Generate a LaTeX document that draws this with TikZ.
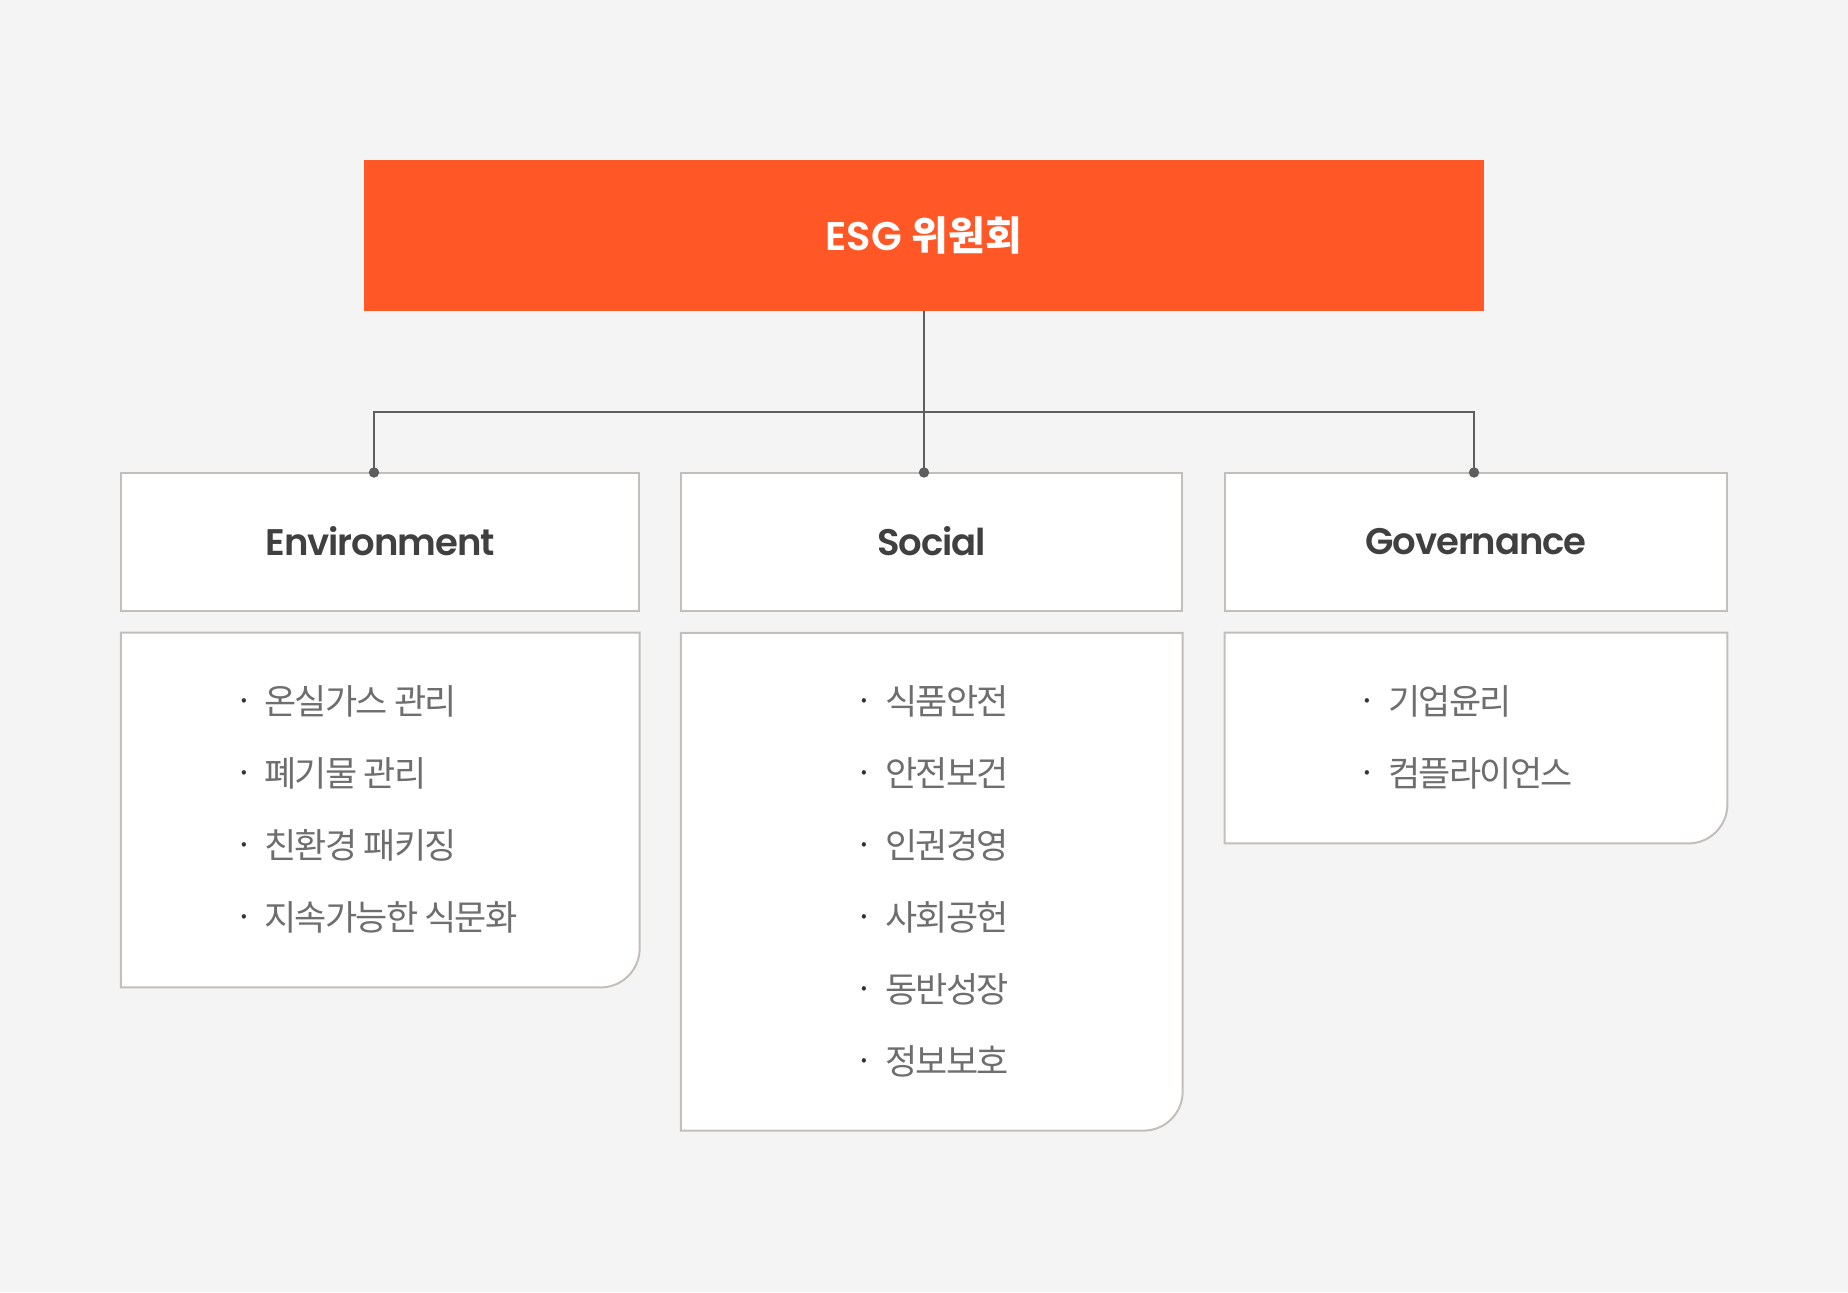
\documentclass[tikz,border=0pt]{standalone}
\usepackage{fontspec}
\newfontfamily\kr{Noto Sans CJK KR}[LetterSpace=-5]
\newfontfamily\krb{Noto Sans CJK KR}
\newfontfamily\hd{Poppins SemiBold}[LetterSpace=-3]
\newfontfamily\hdb{Poppins SemiBold}
\definecolor{bg}{HTML}{F4F4F4}
\definecolor{esgred}{HTML}{FF5725}
\definecolor{boxline}{HTML}{C2BFBA}
\definecolor{conn}{HTML}{5E5E5E}
\definecolor{hdtext}{HTML}{404040}
\definecolor{itemtext}{HTML}{6E6E6E}
\definecolor{bul}{HTML}{333333}
\tikzset{
  esgbox/.style={fill=esgred, draw=none, minimum width=560pt, minimum height=75.5pt, inner sep=0pt,
    text=white, font=\fontsize{20}{24}\selectfont},
  hdbox/.style={fill=white, draw=boxline, line width=1pt, minimum height=69pt, inner sep=0pt,
    text=hdtext, font=\hd\fontsize{18.5}{22}\selectfont},
  bodyframe/.style={draw=none, minimum height=0pt, inner sep=0pt},
  bodyline/.style={fill=white, draw=boxline, line width=1pt},
  conline/.style={draw=conn, line width=1pt},
  condot/.style={fill=conn},
  itemnode/.style={anchor=west, inner sep=0pt, text=itemtext, font=\kr\fontsize{17.5}{20}\selectfont},
  bulnode/.style={anchor=center, inner sep=0pt, text=bul, font=\krb\fontsize{16}{18}\selectfont},
}
\begin{document}
\begin{tikzpicture}[x=0.5pt,y=-0.5pt]
\fill[bg] (0,0) rectangle (1848,1292);
\useasboundingbox (0,0) rectangle (1848,1292);

% top box
\node[esgbox] (esg) at (924,235.5) {{\hdb ESG}\hspace{0.25em}{\krb\bfseries 위원회}};

% header boxes
\node[hdbox, minimum width=259pt] (env) at (380.25,541.6) {Environment};
\node[hdbox, minimum width=250.5pt] (soc) at (931.75,541.6) {Social};
\node[hdbox, minimum width=251pt] (gov) at (1476,541.6) {Governance};

% body frames
\node[bodyframe, minimum width=259pt, minimum height=177pt] (envbody) at (380.25,810) {};
\node[bodyframe, minimum width=250.5pt, minimum height=248.5pt] (socbody) at (931.75,881.7) {};
\node[bodyframe, minimum width=251pt, minimum height=105pt] (govbody) at (1476,738) {};
\foreach \b in {envbody,socbody,govbody}{
  \draw[bodyline] (\b.north west) -- (\b.north east) -- (\b.east)
    [rounded corners=19.5pt] -- (\b.south east) -- (\b.south)
    [sharp corners] -- (\b.south west) -- cycle;
}

% connectors
\coordinate (jE) at (374,472.5);
\coordinate (jS) at (924,472.5);
\coordinate (jG) at (1474,472.5);
\coordinate (bus) at (924,412);
\draw[conline] (esg.south) -- (jS);
\draw[conline] (jE) |- (bus) -| (jG);
\foreach \j in {jE,jS,jG}{ \fill[condot] (\j) circle (2.6pt); }

% environment items
\foreach \t [count=\i from 0] in {온실가스 관리,폐기물 관리,친환경 패키징,지속가능한 식문화}{
  \node[bulnode] (eb\i) at (244,706+72*\i) {·};
  \node[itemnode] (ei\i) at (264,701+72*\i) {\t};
}
% social items
\foreach \t [count=\i from 0] in {식품안전,안전보건,인권경영,사회공헌,동반성장,정보보호}{
  \node[bulnode] (sb\i) at (864,706+72*\i) {·};
  \node[itemnode] (si\i) at (885,701+72*\i) {\t};
}
% governance items
\foreach \t [count=\i from 0] in {기업윤리,컴플라이언스}{
  \node[bulnode] (gb\i) at (1367,706+72*\i) {·};
  \node[itemnode] (gi\i) at (1388,701+72*\i) {\t};
}
\end{tikzpicture}
\end{document}
